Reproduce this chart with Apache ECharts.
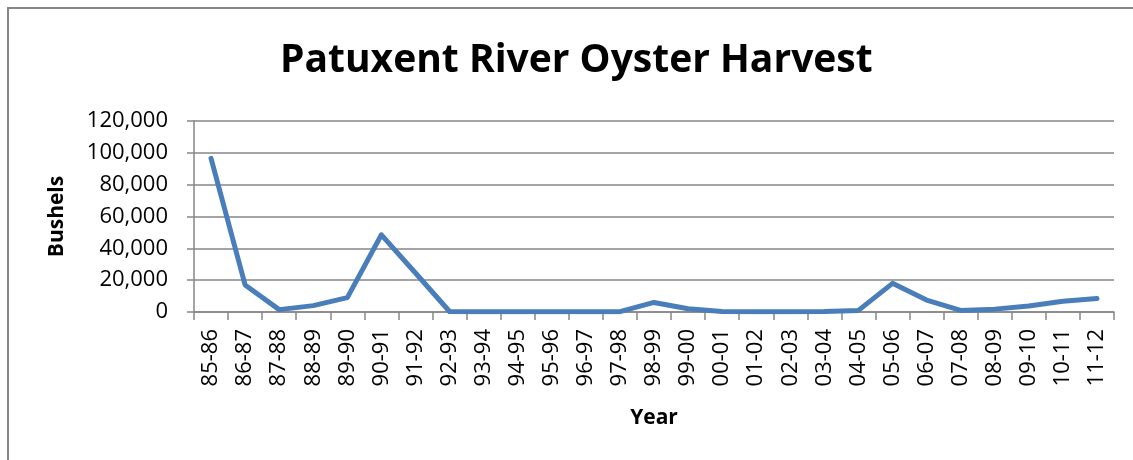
<!DOCTYPE html>
<html>
<head>
<meta charset="UTF-8">
<title>Patuxent River Oyster Harvest</title>
<script src="https://cdn.jsdelivr.net/npm/echarts@6/dist/echarts.min.js"></script>
<style>
    html, body { margin: 0; padding: 0; background: #fff; }
    #main { width: 1133px; height: 460px; }
</style>
</head>
<body>
<div id="main"></div>
<script>
    // harvest seasons (x axis)
    var seasons = ['85-86', '86-87', '87-88', '88-89', '89-90', '90-91', '91-92', '92-93', '93-94',
        '94-95', '95-96', '96-97', '97-98', '98-99', '99-00', '00-01', '01-02', '02-03', '03-04',
        '04-05', '05-06', '06-07', '07-08', '08-09', '09-10', '10-11', '11-12'];
    // bushels
    var bushels = [96500, 17000, 1500, 4000, 9000, 48500, 24500, 300, 100, 100, 200, 100, 200,
        6000, 2000, 300, 200, 200, 300, 1000, 18000, 7500, 1000, 1800, 3800, 6800, 8500];
    var yMin = 0, yMax = 120000, yStep = 20000;

    var myChart = echarts.init(document.getElementById('main'));
    var axisGrey = '#868686';
    var font = 'Open Sans';

    var option = {
        animation: false,
        title: {
            text: 'Patuxent River Oyster Harvest',
            left: 275,
            top: 36,
            textStyle: { fontFamily: font, fontWeight: 'bold', fontSize: 39, color: '#000' }
        },
        graphic: [{
            type: 'rect',
            shape: { x: 8, y: 8, width: 1300, height: 600 },
            style: { fill: 'none', stroke: axisGrey, lineWidth: 2 },
            silent: true
        }],
        grid: { left: 194, right: 19, top: 121, bottom: 148, containLabel: false, outerBoundsMode: 'none' },
        xAxis: {
            type: 'category',
            data: seasons,
            boundaryGap: true,
            name: 'Year',
            nameLocation: 'middle',
            nameGap: 96,
            nameTextStyle: { fontFamily: font, fontWeight: 'bold', fontSize: 21, color: '#000' },
            axisLine: { lineStyle: { color: axisGrey, width: 1.5 } },
            axisTick: { show: true, length: 8, alignWithLabel: false, lineStyle: { color: axisGrey, width: 1.5 } },
            axisLabel: { rotate: 90, interval: 0, margin: 17, fontFamily: font, fontSize: 22, color: '#000' },
            splitLine: { show: false }
        },
        yAxis: {
            type: 'value',
            min: yMin,
            max: yMax,
            interval: yStep,
            name: 'Bushels',
            nameLocation: 'middle',
            nameGap: 126,
            nameTextStyle: { fontFamily: font, fontWeight: 'bold', fontSize: 21, color: '#000' },
            axisLine: { show: true, lineStyle: { color: axisGrey, width: 1.5 } },
            axisTick: { show: true, length: 7, lineStyle: { color: axisGrey, width: 1.5 } },
            axisLabel: {
                margin: 26, fontFamily: font, fontSize: 22, color: '#000',
                formatter: function (v) { return v.toLocaleString('en-US'); }
            },
            splitLine: { show: true, lineStyle: { color: axisGrey, width: 1.5 } }
        },
        series: [{
            type: 'line',
            data: bushels,
            showSymbol: false,
            lineStyle: { color: '#4a7ebb', width: 5, cap: 'round', join: 'round' },
            itemStyle: { color: '#4a7ebb' }
        }]
    };
    myChart.setOption(option);
</script>
</body>
</html>
